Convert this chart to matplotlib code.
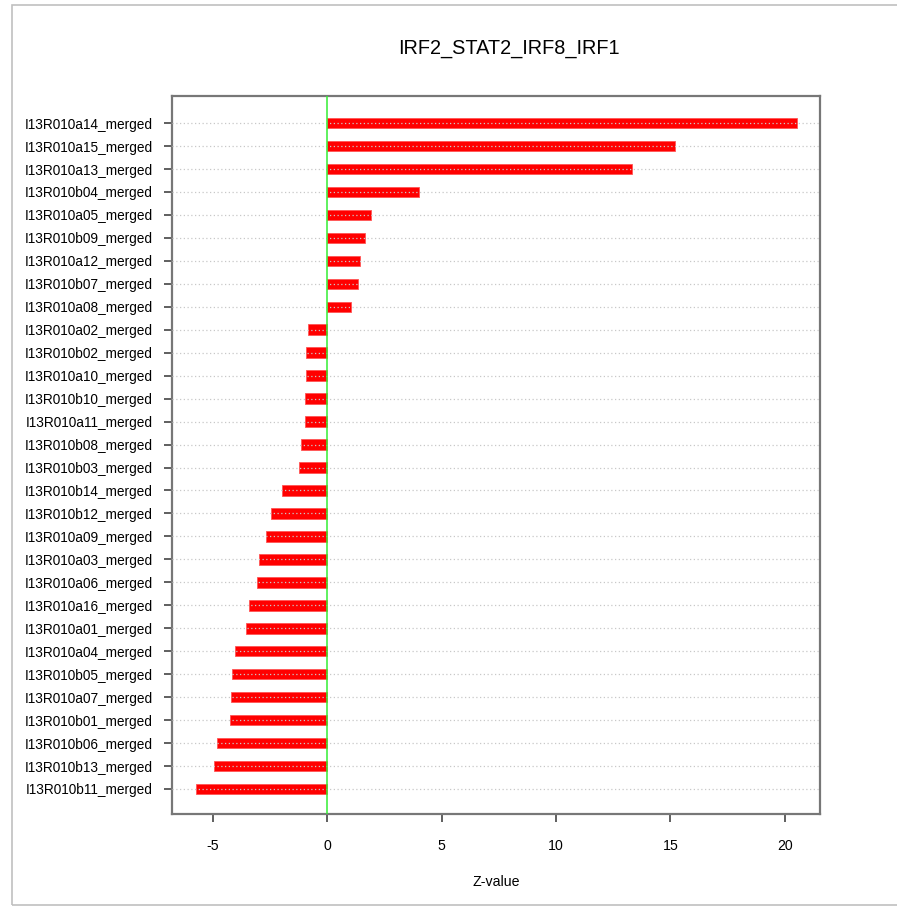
import matplotlib.pyplot as plt
from matplotlib.patches import Rectangle

plt.rcParams['font.family'] = ['Liberation Sans', 'DejaVu Sans']

title = "IRF2_STAT2_IRF8_IRF1"
samples = ["I13R010a14_merged", "I13R010a15_merged", "I13R010a13_merged", "I13R010b04_merged",
           "I13R010a05_merged", "I13R010b09_merged", "I13R010a12_merged", "I13R010b07_merged",
           "I13R010a08_merged", "I13R010a02_merged", "I13R010b02_merged", "I13R010a10_merged",
           "I13R010b10_merged", "I13R010a11_merged", "I13R010b08_merged", "I13R010b03_merged",
           "I13R010b14_merged", "I13R010b12_merged", "I13R010a09_merged", "I13R010a03_merged",
           "I13R010a06_merged", "I13R010a16_merged", "I13R010a01_merged", "I13R010a04_merged",
           "I13R010b05_merged", "I13R010a07_merged", "I13R010b01_merged", "I13R010b06_merged",
           "I13R010b13_merged", "I13R010b11_merged"]
zvals = [20.51, 15.2, 13.3, 4.02, 1.93, 1.67, 1.45, 1.37, 1.05, -0.84,
         -0.92, -0.93, -0.97, -0.97, -1.14, -1.21, -1.97, -2.46, -2.65, -2.98,
         -3.04, -3.39, -3.54, -4.0, -4.15, -4.19, -4.24, -4.82, -4.92, -5.73]
xticks = [-5, 0, 5, 10, 15, 20]

W, H = 897, 906
fig = plt.figure(figsize=(W / 100, H / 100), dpi=100)
ax = fig.add_axes([172 / W, 1 - 814 / H, (820 - 172) / W, (814 - 96) / H])

n = len(samples)
ypos = [n - 1 - i for i in range(n)]

ax.barh(ypos, zvals, height=0.46, color='#ff0000', edgecolor='#ff5555', linewidth=0.6, zorder=2)
for y in ypos:
    ax.axhline(y, color='#c8c8c8', linestyle=(0, (1, 2)), linewidth=0.9, zorder=3)
ax.axvline(0, color='#33ee33', linewidth=1.1, zorder=4)

ax.set_xlim(-6.77, 21.53)
ax.set_ylim(-1.09, n - 1 + 1.18)
ax.set_yticks(ypos)
ax.set_yticklabels(samples, fontsize=9.8)
ax.set_xticks(xticks)
ax.set_xticklabels([str(t) for t in xticks], fontsize=10.2)
ax.tick_params(axis='both', direction='out', length=6, width=1.2, color='#444444', pad=8)
ax.tick_params(axis='x', pad=12)
for s in ax.spines.values():
    s.set_color('#777777')
    s.set_linewidth(1.6)

ax.set_xlabel("Z-value", fontsize=10.2, labelpad=16)
fig.text(509 / W, 1 - 48 / H, title, ha='center', va='center', fontsize=14.3)

fig.patches.append(Rectangle((12 / W, 1 - 905 / H), 1.0, (905 - 5) / H, transform=fig.transFigure,
                             fill=False, edgecolor='#c0c0c0', linewidth=1.2))

fig.savefig("out.png", dpi=100)
